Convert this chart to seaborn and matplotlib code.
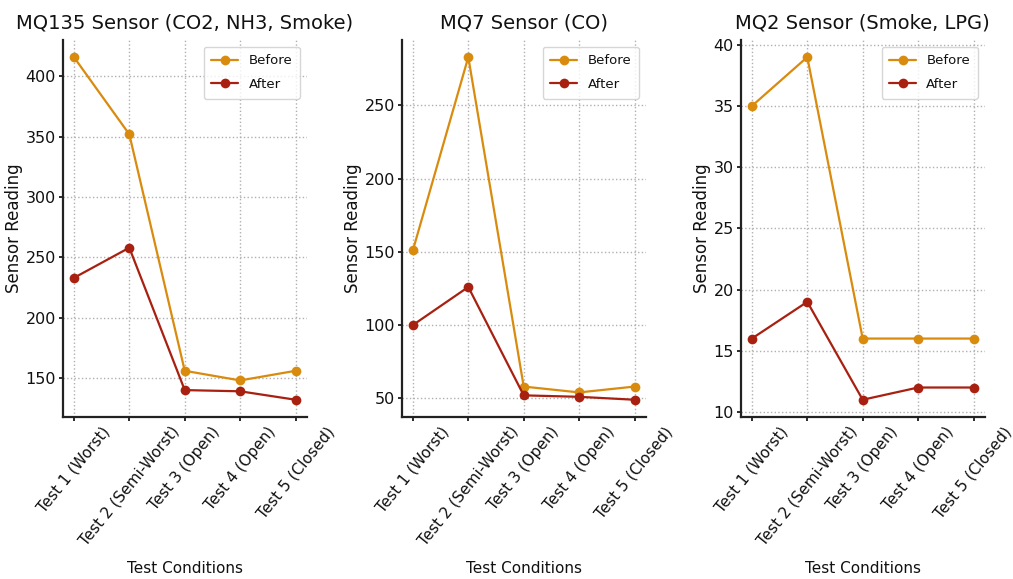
import pandas as pd
import seaborn as sns
import matplotlib.pyplot as plt

# test conditions on the x axis
conditions = ["Test 1 (Worst)", "Test 2 (Semi-Worst)", "Test 3 (Open)",
              "Test 4 (Open)", "Test 5 (Closed)"]

titles = ["MQ135 Sensor (CO2, NH3, Smoke)", "MQ7 Sensor (CO)", "MQ2 Sensor (Smoke, LPG)"]

mq135_before = [416, 352, 156, 148, 156]
mq135_after = [233, 258, 140, 139, 132]
mq7_before = [151, 283, 58, 54, 58]
mq7_after = [100, 126, 52, 51, 49]
mq2_before = [35, 39, 16, 16, 16]
mq2_after = [16, 19, 11, 12, 12]

palette = {"Before": "#d98b0e", "After": "#a82010"}


def make_frame(before, after):
    rows = []
    for i, c in enumerate(conditions):
        rows.append({"cond": c, "val": before[i], "state": "Before"})
    for i, c in enumerate(conditions):
        rows.append({"cond": c, "val": after[i], "state": "After"})
    return pd.DataFrame(rows)


def main():
    sns.set_theme(style="whitegrid")
    plt.rcParams["font.family"] = ["DejaVu Sans"]
    plt.rcParams["text.color"] = "#111111"
    plt.rcParams["axes.labelcolor"] = "#111111"
    plt.rcParams["xtick.color"] = "#111111"
    plt.rcParams["ytick.color"] = "#111111"

    fig, axes = plt.subplots(1, 3, figsize=(10.13, 5.79), dpi=100)
    fig.subplots_adjust(left=0.062, right=0.972, top=0.931, bottom=0.28, wspace=0.39)

    data = [(mq135_before, mq135_after), (mq7_before, mq7_after), (mq2_before, mq2_after)]

    for ax, (b, a), t in zip(axes, data, titles):
        df = make_frame(b, a)
        sns.lineplot(data=df, x="cond", y="val", hue="state", palette=palette,
                     marker="o", markersize=7, markeredgewidth=0, linewidth=1.6,
                     sort=False, ax=ax)
        ax.set_title(t, fontsize=14, pad=8)
        ax.set_xlabel("Test Conditions", fontsize=11, labelpad=9)
        ax.set_ylabel("Sensor Reading", fontsize=12, labelpad=2)
        ax.tick_params(axis="y", labelsize=11.5, length=3, left=True, pad=2)
        ax.tick_params(axis="x", labelsize=11, length=3, bottom=True, pad=2)
        for lbl in ax.get_xticklabels():
            lbl.set_rotation(51)
        ax.grid(True, linestyle=":", color="#b0b0b0", linewidth=1)
        sns.despine(ax=ax)
        for s in ["left", "bottom"]:
            ax.spines[s].set_color("#222222")
            ax.spines[s].set_linewidth(1.6)
        ax.legend(loc="upper right", fontsize=9.5, title=None, frameon=True,
                  labelspacing=0.8, borderpad=0.6)

    fig.savefig("out.png", dpi=100)


if __name__ == "__main__":
    main()
